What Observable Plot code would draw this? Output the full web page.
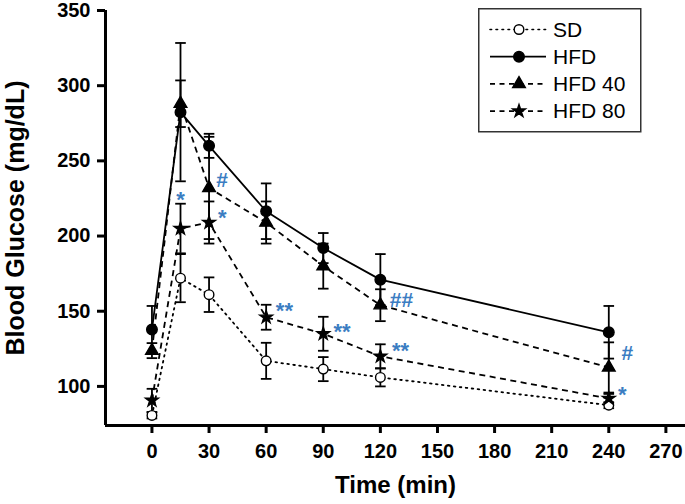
<!DOCTYPE html>
<html><head><meta charset="utf-8">
<script src="https://cdn.jsdelivr.net/npm/d3@7"></script>
<script src="https://cdn.jsdelivr.net/npm/@observablehq/plot@0.6"></script>
<style>
body{margin:0;background:#fff;}
#wrap{position:relative;width:685px;height:504px;}
#legend{position:absolute;left:478px;top:8px;}
</style></head><body><div id="wrap"></div>
<script>
// ---- data ----
const times = [0, 15, 30, 60, 90, 120, 240];
const seriesNames = ["SD", "HFD", "HFD 40", "HFD 80"];
const sdMean    = [80.7, 172, 161, 117, 111.5, 106, 87.5];
const sdErr     = [2, 16, 11.5, 12, 8, 6, 2];
const hfdMean   = [137.8, 282.4, 260, 216.5, 192, 171, 136];
const hfdErr    = [15.7, 46, 8, 18.5, 10, 17, 17.5];
const hfd40Mean = [123.8, 288, 232, 209, 180, 154, 112.6];
const hfd40Err  = [5, 15.5, 34, 14, 15, 10.6, 16.7];
const hfd80Mean = [90.7, 205, 209, 146, 135, 120, 92];
const hfd80Err  = [7.7, 16.5, 14, 8.3, 11.3, 8, 3];
const xTicks = [0, 30, 60, 90, 120, 150, 180, 210, 240, 270];
const yTicks = [100, 150, 200, 250, 300, 350];
const xDomain = [-24.4, 280.3];
const yDomain = [74, 350];
const annotationText  = ["*", "#", "*", "**", "**", "##", "**", "#", "*"];
const annotationTime  = [15, 36.9, 36.9, 69.6, 99.9, 131.1, 130.6, 249.7, 247.1];
const annotationValue = [227.7, 237, 215.5, 153.9, 140.2, 157.2, 127.7, 122.1, 98];
const xTitle = "Time (min)";
const yTitle = "Blood Glucose (mg/dL)";

// ---- build table ----
const meanOf = {"SD": sdMean, "HFD": hfdMean, "HFD 40": hfd40Mean, "HFD 80": hfd80Mean};
const errOf  = {"SD": sdErr, "HFD": hfdErr, "HFD 40": hfd40Err, "HFD 80": hfd80Err};
const rows = seriesNames.flatMap(s => times.map((t, i) => ({series: s, time: t, value: meanOf[s][i], err: errOf[s][i]})));
const notes = annotationText.map((txt, i) => ({txt, time: annotationTime[i], value: annotationValue[i]}));

const look = {
  "SD":     {symbol: "circle",   fill: "white", r: 4.8, dash: "1.6,4.4"},
  "HFD":    {symbol: "circle",   fill: "black", r: 5.3, dash: null},
  "HFD 40": {symbol: "triangle", fill: "black", r: 4.7, dash: "6,4.5"},
  "HFD 80": {symbol: "star",     fill: "black", r: 4.0, dash: "6,4.5"}
};
const FONT = "'Liberation Sans', Arial, Helvetica, sans-serif";
const BLUE = "#3b7dc2";
const cap = {draw(ctx, size) { const w = Math.sqrt(size / Math.PI); ctx.moveTo(-w, 0); ctx.lineTo(w, 0); }};

const seriesMarks = seriesNames.map(s => {
  const L = look[s];
  return Plot.line(rows.filter(r => r.series === s), {x: "time", y: "value", stroke: "black", strokeWidth: 1.8,
    strokeDasharray: L.dash ?? undefined, strokeLinecap: s === "SD" ? "round" : "butt"});
});
const dotMarks = seriesNames.map(s => {
  const L = look[s];
  return Plot.dot(rows.filter(r => r.series === s), {x: "time", y: "value", symbol: L.symbol, r: L.r, fill: L.fill, stroke: "black", strokeWidth: 1.4});
});

const chart = Plot.plot({
  width: 685, height: 504,
  marginLeft: 105, marginRight: 0, marginTop: 10, marginBottom: 79,
  x: {domain: xDomain},
  y: {domain: yDomain},
  style: {fontFamily: FONT, fontSize: "20px", fontWeight: "bold", color: "black", background: "white", overflow: "visible"},
  marks: [
    Plot.axisX({ticks: xTicks, tickSize: 8, tickPadding: 10, strokeWidth: 3, label: null, fontSize: 20, fontWeight: "bold", tickFormat: d => String(d)}),
    Plot.axisY({ticks: yTicks, tickSize: 8, tickPadding: 7, strokeWidth: 3, label: null, fontSize: 20, fontWeight: "bold", tickFormat: d => String(d)}),
    Plot.ruleX([xDomain[0]], {strokeWidth: 3}),
    Plot.ruleY([yDomain[0]], {strokeWidth: 3}),
    Plot.ruleX(rows, {x: "time", y1: d => d.value - d.err, y2: d => d.value + d.err, stroke: "black", strokeWidth: 1.8}),
    Plot.dot(rows, {x: "time", y: d => d.value + d.err, symbol: cap, r: 5.3, stroke: "black", strokeWidth: 1.8, fill: "none"}),
    Plot.dot(rows, {x: "time", y: d => d.value - d.err, symbol: cap, r: 5.3, stroke: "black", strokeWidth: 1.8, fill: "none"}),
    ...seriesMarks,
    ...dotMarks,
    Plot.text(notes.filter(n => n.txt.includes("*")), {x: "time", y: "value", text: "txt", fill: BLUE, fontSize: 22, fontWeight: "bold", dy: 5.7, fontFamily: FONT}),
    Plot.text(notes.filter(n => n.txt.includes("#")), {x: "time", y: "value", text: "txt", fill: BLUE, fontSize: 21, fontWeight: "bold", fontFamily: FONT}),
    Plot.text([xTitle], {frameAnchor: "bottom", text: d => d, dy: 67, fontSize: 24, fontWeight: "bold", fontFamily: FONT}),
    Plot.text([yTitle], {frameAnchor: "left", text: d => d, textAnchor: "middle", rotate: -90, dx: -90, fontSize: 25, fontWeight: "bold", fontFamily: FONT})
  ]
});
const wrap = document.getElementById("wrap");
wrap.appendChild(chart);

// ---- legend ----
const lg = d3.select(wrap).append("svg").attr("id", "legend").attr("width", 164).attr("height", 125);
lg.append("rect").attr("x", 0.75).attr("y", 0.75).attr("width", 162).attr("height", 123)
  .attr("fill", "white").attr("stroke", "#333").attr("stroke-width", 1.5);
seriesNames.forEach((s, i) => {
  const L = look[s];
  const y = 21.5 + i * 27.2;
  lg.append("line").attr("x1", 12).attr("x2", 68).attr("y1", y).attr("y2", y)
    .attr("stroke", "black").attr("stroke-width", s === "HFD" ? 1.8 : 1.6)
    .attr("stroke-dasharray", s === "SD" ? "1.6,4.4" : (L.dash ? "5,4.5" : null))
    .attr("stroke-linecap", s === "SD" ? "round" : "butt");
  const sym = {circle: d3.symbolCircle, triangle: d3.symbolTriangle, star: d3.symbolStar}[L.symbol];
  lg.append("path").attr("transform", `translate(41,${y})`)
    .attr("d", d3.symbol(sym, L.r * L.r * Math.PI)())
    .attr("fill", L.fill).attr("stroke", "black").attr("stroke-width", 1.4);
  lg.append("text").attr("x", 75).attr("y", y).attr("dy", "0.35em")
    .attr("font-family", FONT).attr("font-size", 21).text(s);
});
</script>
</body></html>
